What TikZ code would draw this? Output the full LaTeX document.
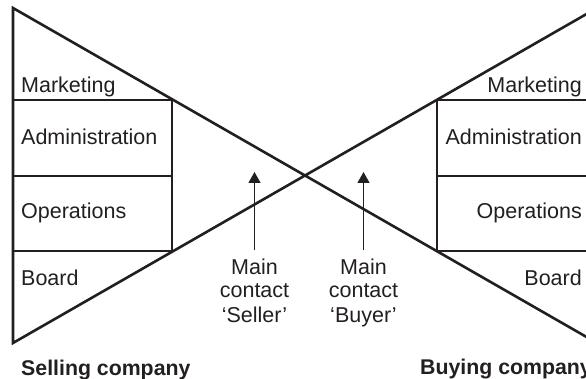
\documentclass[tikz,border=0pt]{standalone}
\usepackage{fontspec}
\setmainfont{Liberation Sans}
\usetikzlibrary{arrows.meta}
\definecolor{ink}{HTML}{231F20}
\begin{document}
\begin{tikzpicture}[x=1pt,y=-1pt,
  bowtie/.style={draw=ink,line width=2.6pt,line join=miter},
  divider/.style={draw=ink,line width=1.2pt},
  lbl/.style={inner sep=0pt,text=ink,font=\fontsize{21.5}{24}\selectfont},
  firm/.style={inner sep=0pt,text=ink,font=\fontsize{21.3}{24}\selectfont\bfseries},
  contactarrow/.style={draw=ink,line width=1.3pt,-{Triangle[width=12pt,length=11pt]},shorten <=9pt}
]
\useasboundingbox (0,0) rectangle (586,379);
\clip (0,0) rectangle (586,379);

% corners of the two triangles
\coordinate (lt) at (13,8);
\coordinate (lb) at (13,343);
\coordinate (rt) at (597,8);
\coordinate (rb) at (597,343);
\draw[bowtie] (lt) -- (lb) -- (rt) -- (rb) -- cycle;

% selling company departments
\coordinate (sA) at (13,100);  \coordinate (sA2) at (172,100);
\coordinate (sB) at (13,176);  \coordinate (sB2) at (172,176);
\coordinate (sC) at (13,251);  \coordinate (sC2) at (172,251);
\draw[divider] (sA) -- (sA2) -- (sC2) -- (sC);
\draw[divider] (sB) -- (sB2);

% buying company departments
\coordinate (bA) at (597,100); \coordinate (bA2) at (437,100);
\coordinate (bB) at (597,176); \coordinate (bB2) at (437,176);
\coordinate (bC) at (597,251); \coordinate (bC2) at (437,251);
\draw[divider] (bA) -- (bA2) -- (bC2) -- (bC);
\draw[divider] (bB) -- (bB2);

% department labels
\node[lbl,anchor=base west] (sMkt) at (21,93) {Marketing};
\node[lbl,anchor=base west] (sAdm) at (21,145) {Administration};
\node[lbl,anchor=base west] (sOps) at (21,219) {Operations};
\node[lbl,anchor=base west] (sBrd) at (21,286) {Board};

\node[lbl,anchor=base east] (bMkt) at (582,93) {Marketing};
\node[lbl,anchor=base east] (bAdm) at (582,145) {Administration};
\node[lbl,anchor=base east] (bOps) at (582,219) {Operations};
\node[lbl,anchor=base east] (bBrd) at (582,286) {Board};

% company names
\node[firm,anchor=base west] (sell) at (21,375) {Selling company};
\node[firm,anchor=base west] (buy) at (420,374) {Buying company};

% main contacts
\node[lbl,anchor=base] (sM1) at (254.5,275) {Main};
\node[lbl,anchor=base] (sM2) at (254.5,298) {contact};
\node[lbl,anchor=base] (sM3) at (254.5,322) {‘Seller’};
\node[lbl,anchor=base] (bM1) at (363.5,275) {Main};
\node[lbl,anchor=base] (bM2) at (363.5,298) {contact};
\node[lbl,anchor=base] (bM3) at (363.5,322) {‘Buyer’};

\coordinate (sTip) at (254.5,172);
\coordinate (bTip) at (363.5,172);
\draw[contactarrow] (sM1.north) -- (sTip);
\draw[contactarrow] (bM1.north) -- (bTip);
\end{tikzpicture}
\end{document}
